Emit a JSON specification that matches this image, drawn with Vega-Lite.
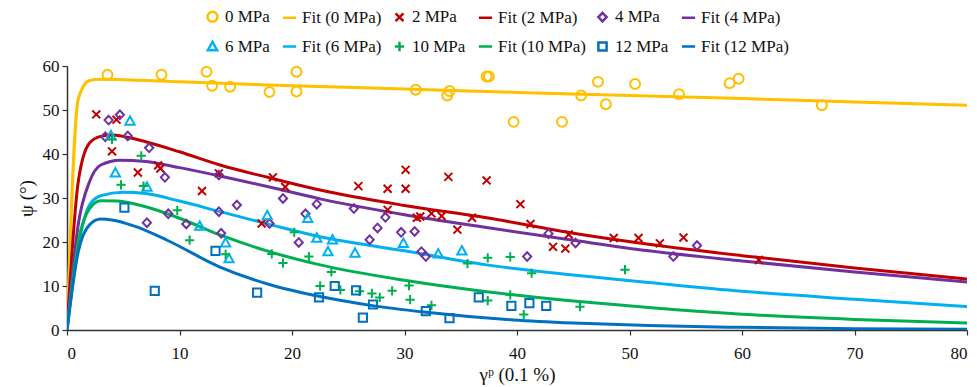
{
  "$schema": "https://vega.github.io/schema/vega-lite/v6.json",
  "autosize": {"type": "none"},
  "width": 900,
  "height": 264,
  "padding": {"left": 67, "top": 66, "right": 10, "bottom": 57},
  "background": "white",
  "config": {
    "view": {"stroke": null},
    "font": "'Liberation Serif', 'DejaVu Serif', serif",
    "axis": {
      "grid": false,
      "labelFont": "'Liberation Serif', 'DejaVu Serif', serif",
      "labelFontSize": 17,
      "labelColor": "#111",
      "titleFont": "'Liberation Serif', 'DejaVu Serif', serif",
      "titleFontSize": 19,
      "titleFontWeight": "normal",
      "titleColor": "#111",
      "domainColor": "#333",
      "domainWidth": 1.5,
      "tickColor": "#333",
      "tickWidth": 1.2,
      "tickSize": 5
    },
    "legend": {
      "labelFont": "'Liberation Serif', 'DejaVu Serif', serif",
      "labelFontSize": 17,
      "labelColor": "#111"
    }
  },
  "datasets": {
    "pts": [
      {"series": "0 MPa", "x": 3.6, "y": 58.0},
      {"series": "0 MPa", "x": 8.4, "y": 58.0},
      {"series": "0 MPa", "x": 12.4, "y": 58.7},
      {"series": "0 MPa", "x": 12.9, "y": 55.5},
      {"series": "0 MPa", "x": 14.5, "y": 55.3},
      {"series": "0 MPa", "x": 18.0, "y": 54.1},
      {"series": "0 MPa", "x": 20.4, "y": 58.7},
      {"series": "0 MPa", "x": 20.4, "y": 54.2},
      {"series": "0 MPa", "x": 31.0, "y": 54.6},
      {"series": "0 MPa", "x": 33.8, "y": 53.3},
      {"series": "0 MPa", "x": 34.0, "y": 54.3},
      {"series": "0 MPa", "x": 37.3, "y": 57.6},
      {"series": "0 MPa", "x": 37.5, "y": 57.6},
      {"series": "0 MPa", "x": 39.7, "y": 47.3},
      {"series": "0 MPa", "x": 44.0, "y": 47.3},
      {"series": "0 MPa", "x": 45.7, "y": 53.3},
      {"series": "0 MPa", "x": 47.2, "y": 56.4},
      {"series": "0 MPa", "x": 47.9, "y": 51.3},
      {"series": "0 MPa", "x": 50.5, "y": 55.9},
      {"series": "0 MPa", "x": 54.4, "y": 53.6},
      {"series": "0 MPa", "x": 58.9, "y": 56.1},
      {"series": "0 MPa", "x": 59.7, "y": 57.1},
      {"series": "0 MPa", "x": 67.1, "y": 51.1},
      {"series": "2 MPa", "x": 2.6, "y": 49.0},
      {"series": "2 MPa", "x": 4.4, "y": 47.8},
      {"series": "2 MPa", "x": 4.0, "y": 40.6},
      {"series": "2 MPa", "x": 6.3, "y": 35.8},
      {"series": "2 MPa", "x": 8.1, "y": 37.4},
      {"series": "2 MPa", "x": 8.3, "y": 36.7},
      {"series": "2 MPa", "x": 12.0, "y": 31.6},
      {"series": "2 MPa", "x": 13.5, "y": 35.6},
      {"series": "2 MPa", "x": 17.3, "y": 24.2},
      {"series": "2 MPa", "x": 18.3, "y": 34.7},
      {"series": "2 MPa", "x": 19.4, "y": 32.5},
      {"series": "2 MPa", "x": 25.9, "y": 32.7},
      {"series": "2 MPa", "x": 28.5, "y": 32.1},
      {"series": "2 MPa", "x": 30.1, "y": 36.4},
      {"series": "2 MPa", "x": 30.1, "y": 32.1},
      {"series": "2 MPa", "x": 33.9, "y": 34.8},
      {"series": "2 MPa", "x": 37.3, "y": 34.0},
      {"series": "2 MPa", "x": 28.5, "y": 27.3},
      {"series": "2 MPa", "x": 31.1, "y": 25.5},
      {"series": "2 MPa", "x": 31.4, "y": 25.8},
      {"series": "2 MPa", "x": 32.4, "y": 26.5},
      {"series": "2 MPa", "x": 33.3, "y": 25.9},
      {"series": "2 MPa", "x": 34.7, "y": 22.8},
      {"series": "2 MPa", "x": 36.0, "y": 25.5},
      {"series": "2 MPa", "x": 40.3, "y": 28.6},
      {"series": "2 MPa", "x": 41.2, "y": 24.1},
      {"series": "2 MPa", "x": 43.2, "y": 18.9},
      {"series": "2 MPa", "x": 44.3, "y": 18.5},
      {"series": "2 MPa", "x": 44.6, "y": 21.7},
      {"series": "2 MPa", "x": 48.6, "y": 20.9},
      {"series": "2 MPa", "x": 50.8, "y": 20.9},
      {"series": "2 MPa", "x": 52.7, "y": 19.7},
      {"series": "2 MPa", "x": 54.8, "y": 21.0},
      {"series": "2 MPa", "x": 61.5, "y": 15.9},
      {"series": "4 MPa", "x": 3.7, "y": 47.7},
      {"series": "4 MPa", "x": 4.7, "y": 48.9},
      {"series": "4 MPa", "x": 3.4, "y": 43.9},
      {"series": "4 MPa", "x": 5.4, "y": 44.1},
      {"series": "4 MPa", "x": 7.3, "y": 41.4},
      {"series": "4 MPa", "x": 8.7, "y": 34.7},
      {"series": "4 MPa", "x": 7.1, "y": 24.4},
      {"series": "4 MPa", "x": 9.0, "y": 26.4},
      {"series": "4 MPa", "x": 10.6, "y": 24.1},
      {"series": "4 MPa", "x": 13.5, "y": 35.2},
      {"series": "4 MPa", "x": 13.5, "y": 26.9},
      {"series": "4 MPa", "x": 13.7, "y": 22.0},
      {"series": "4 MPa", "x": 15.1, "y": 28.4},
      {"series": "4 MPa", "x": 18.0, "y": 24.2},
      {"series": "4 MPa", "x": 19.2, "y": 29.9},
      {"series": "4 MPa", "x": 20.6, "y": 19.9},
      {"series": "4 MPa", "x": 21.2, "y": 26.4},
      {"series": "4 MPa", "x": 22.2, "y": 28.6},
      {"series": "4 MPa", "x": 25.5, "y": 27.6},
      {"series": "4 MPa", "x": 26.9, "y": 20.5},
      {"series": "4 MPa", "x": 27.6, "y": 23.2},
      {"series": "4 MPa", "x": 28.3, "y": 25.6},
      {"series": "4 MPa", "x": 29.7, "y": 22.2},
      {"series": "4 MPa", "x": 30.9, "y": 22.4},
      {"series": "4 MPa", "x": 31.5, "y": 17.8},
      {"series": "4 MPa", "x": 31.9, "y": 16.7},
      {"series": "4 MPa", "x": 40.9, "y": 16.7},
      {"series": "4 MPa", "x": 42.8, "y": 21.9},
      {"series": "4 MPa", "x": 45.2, "y": 19.8},
      {"series": "4 MPa", "x": 53.9, "y": 16.7},
      {"series": "4 MPa", "x": 56.0, "y": 19.2},
      {"series": "6 MPa", "x": 3.9, "y": 44.2},
      {"series": "6 MPa", "x": 4.3, "y": 35.7},
      {"series": "6 MPa", "x": 5.6, "y": 47.5},
      {"series": "6 MPa", "x": 7.1, "y": 32.5},
      {"series": "6 MPa", "x": 11.8, "y": 23.6},
      {"series": "6 MPa", "x": 14.1, "y": 19.8},
      {"series": "6 MPa", "x": 14.4, "y": 16.2},
      {"series": "6 MPa", "x": 17.8, "y": 26.0},
      {"series": "6 MPa", "x": 21.4, "y": 25.4},
      {"series": "6 MPa", "x": 22.2, "y": 20.9},
      {"series": "6 MPa", "x": 23.2, "y": 17.8},
      {"series": "6 MPa", "x": 23.6, "y": 20.5},
      {"series": "6 MPa", "x": 25.6, "y": 17.5},
      {"series": "6 MPa", "x": 29.9, "y": 19.7},
      {"series": "6 MPa", "x": 33.0, "y": 17.3},
      {"series": "6 MPa", "x": 35.1, "y": 18.0},
      {"series": "10 MPa", "x": 4.0, "y": 43.3},
      {"series": "10 MPa", "x": 6.6, "y": 39.6},
      {"series": "10 MPa", "x": 4.8, "y": 33.0},
      {"series": "10 MPa", "x": 6.8, "y": 32.7},
      {"series": "10 MPa", "x": 9.8, "y": 27.2},
      {"series": "10 MPa", "x": 10.9, "y": 20.4},
      {"series": "10 MPa", "x": 14.1, "y": 17.2},
      {"series": "10 MPa", "x": 18.2, "y": 17.3},
      {"series": "10 MPa", "x": 19.2, "y": 15.2},
      {"series": "10 MPa", "x": 20.2, "y": 22.2},
      {"series": "10 MPa", "x": 21.5, "y": 16.7},
      {"series": "10 MPa", "x": 22.5, "y": 10.0},
      {"series": "10 MPa", "x": 23.5, "y": 13.2},
      {"series": "10 MPa", "x": 24.3, "y": 9.1},
      {"series": "10 MPa", "x": 26.0, "y": 8.8},
      {"series": "10 MPa", "x": 27.1, "y": 8.3},
      {"series": "10 MPa", "x": 27.8, "y": 7.4},
      {"series": "10 MPa", "x": 28.9, "y": 8.9},
      {"series": "10 MPa", "x": 30.4, "y": 10.1},
      {"series": "10 MPa", "x": 30.5, "y": 6.9},
      {"series": "10 MPa", "x": 32.4, "y": 5.6},
      {"series": "10 MPa", "x": 35.6, "y": 15.1},
      {"series": "10 MPa", "x": 37.4, "y": 16.4},
      {"series": "10 MPa", "x": 37.4, "y": 6.7},
      {"series": "10 MPa", "x": 39.4, "y": 16.6},
      {"series": "10 MPa", "x": 39.4, "y": 8.0},
      {"series": "10 MPa", "x": 40.6, "y": 3.5},
      {"series": "10 MPa", "x": 41.3, "y": 12.9},
      {"series": "10 MPa", "x": 45.6, "y": 5.3},
      {"series": "10 MPa", "x": 49.6, "y": 13.7},
      {"series": "12 MPa", "x": 5.1, "y": 27.8},
      {"series": "12 MPa", "x": 7.8, "y": 8.9},
      {"series": "12 MPa", "x": 13.2, "y": 18.0},
      {"series": "12 MPa", "x": 16.9, "y": 8.5},
      {"series": "12 MPa", "x": 22.4, "y": 7.4},
      {"series": "12 MPa", "x": 23.8, "y": 10.0},
      {"series": "12 MPa", "x": 25.7, "y": 9.0},
      {"series": "12 MPa", "x": 26.3, "y": 2.8},
      {"series": "12 MPa", "x": 27.2, "y": 5.8},
      {"series": "12 MPa", "x": 31.9, "y": 4.3},
      {"series": "12 MPa", "x": 34.0, "y": 2.7},
      {"series": "12 MPa", "x": 36.6, "y": 7.4},
      {"series": "12 MPa", "x": 39.5, "y": 5.5},
      {"series": "12 MPa", "x": 41.1, "y": 6.1},
      {"series": "12 MPa", "x": 42.6, "y": 5.5}
    ],
    "fit": [
      {"series": "Fit (0 MPa)", "x": 0, "y": 0},
      {"series": "Fit (0 MPa)", "x": 1, "y": 52.5},
      {"series": "Fit (0 MPa)", "x": 2, "y": 56.7},
      {"series": "Fit (0 MPa)", "x": 3, "y": 57.0},
      {"series": "Fit (0 MPa)", "x": 5, "y": 56.9},
      {"series": "Fit (0 MPa)", "x": 10, "y": 56.4},
      {"series": "Fit (0 MPa)", "x": 20, "y": 55.5},
      {"series": "Fit (0 MPa)", "x": 30, "y": 54.8},
      {"series": "Fit (0 MPa)", "x": 40, "y": 54.0},
      {"series": "Fit (0 MPa)", "x": 50, "y": 53.3},
      {"series": "Fit (0 MPa)", "x": 60, "y": 52.6},
      {"series": "Fit (0 MPa)", "x": 70, "y": 51.8},
      {"series": "Fit (0 MPa)", "x": 80, "y": 51.1},
      {"series": "Fit (2 MPa)", "x": 0, "y": 0},
      {"series": "Fit (2 MPa)", "x": 1, "y": 33.7},
      {"series": "Fit (2 MPa)", "x": 2, "y": 42.5},
      {"series": "Fit (2 MPa)", "x": 3, "y": 44.0},
      {"series": "Fit (2 MPa)", "x": 4, "y": 44.3},
      {"series": "Fit (2 MPa)", "x": 5, "y": 44.0},
      {"series": "Fit (2 MPa)", "x": 7, "y": 42.8},
      {"series": "Fit (2 MPa)", "x": 10, "y": 40.5},
      {"series": "Fit (2 MPa)", "x": 13.6, "y": 37.5},
      {"series": "Fit (2 MPa)", "x": 18, "y": 34.6},
      {"series": "Fit (2 MPa)", "x": 22.5, "y": 31.8},
      {"series": "Fit (2 MPa)", "x": 30, "y": 28.3},
      {"series": "Fit (2 MPa)", "x": 37.3, "y": 25.5},
      {"series": "Fit (2 MPa)", "x": 45, "y": 22.0},
      {"series": "Fit (2 MPa)", "x": 51.7, "y": 19.5},
      {"series": "Fit (2 MPa)", "x": 60, "y": 16.9},
      {"series": "Fit (2 MPa)", "x": 70, "y": 14.1},
      {"series": "Fit (2 MPa)", "x": 80, "y": 11.6},
      {"series": "Fit (4 MPa)", "x": 0, "y": 0},
      {"series": "Fit (4 MPa)", "x": 1, "y": 24.0},
      {"series": "Fit (4 MPa)", "x": 2, "y": 33.7},
      {"series": "Fit (4 MPa)", "x": 3, "y": 37.5},
      {"series": "Fit (4 MPa)", "x": 4.7, "y": 38.6},
      {"series": "Fit (4 MPa)", "x": 7, "y": 38.3},
      {"series": "Fit (4 MPa)", "x": 10, "y": 36.9},
      {"series": "Fit (4 MPa)", "x": 13.6, "y": 35.0},
      {"series": "Fit (4 MPa)", "x": 18, "y": 32.5},
      {"series": "Fit (4 MPa)", "x": 22.5, "y": 29.8},
      {"series": "Fit (4 MPa)", "x": 30, "y": 26.2},
      {"series": "Fit (4 MPa)", "x": 37, "y": 23.4},
      {"series": "Fit (4 MPa)", "x": 45, "y": 20.4},
      {"series": "Fit (4 MPa)", "x": 51.7, "y": 18.0},
      {"series": "Fit (4 MPa)", "x": 60, "y": 15.7},
      {"series": "Fit (4 MPa)", "x": 70, "y": 13.2},
      {"series": "Fit (4 MPa)", "x": 80, "y": 10.9},
      {"series": "Fit (6 MPa)", "x": 0, "y": 0},
      {"series": "Fit (6 MPa)", "x": 1, "y": 19.0},
      {"series": "Fit (6 MPa)", "x": 2, "y": 28.4},
      {"series": "Fit (6 MPa)", "x": 3, "y": 30.5},
      {"series": "Fit (6 MPa)", "x": 5, "y": 31.3},
      {"series": "Fit (6 MPa)", "x": 7, "y": 31.0},
      {"series": "Fit (6 MPa)", "x": 10, "y": 29.3},
      {"series": "Fit (6 MPa)", "x": 13.6, "y": 26.9},
      {"series": "Fit (6 MPa)", "x": 18, "y": 24.0},
      {"series": "Fit (6 MPa)", "x": 22.5, "y": 21.2},
      {"series": "Fit (6 MPa)", "x": 30, "y": 18.0},
      {"series": "Fit (6 MPa)", "x": 37.3, "y": 14.8},
      {"series": "Fit (6 MPa)", "x": 45, "y": 12.5},
      {"series": "Fit (6 MPa)", "x": 51.7, "y": 10.8},
      {"series": "Fit (6 MPa)", "x": 60, "y": 8.8},
      {"series": "Fit (6 MPa)", "x": 70, "y": 7.0},
      {"series": "Fit (6 MPa)", "x": 80, "y": 5.3},
      {"series": "Fit (10 MPa)", "x": 0, "y": 0},
      {"series": "Fit (10 MPa)", "x": 1, "y": 20.0},
      {"series": "Fit (10 MPa)", "x": 2, "y": 27.6},
      {"series": "Fit (10 MPa)", "x": 3, "y": 29.4},
      {"series": "Fit (10 MPa)", "x": 4.5, "y": 29.3},
      {"series": "Fit (10 MPa)", "x": 7, "y": 28.0},
      {"series": "Fit (10 MPa)", "x": 10, "y": 25.4},
      {"series": "Fit (10 MPa)", "x": 13.6, "y": 21.6},
      {"series": "Fit (10 MPa)", "x": 18, "y": 17.8},
      {"series": "Fit (10 MPa)", "x": 22.5, "y": 14.8},
      {"series": "Fit (10 MPa)", "x": 30, "y": 11.3},
      {"series": "Fit (10 MPa)", "x": 37.3, "y": 8.7},
      {"series": "Fit (10 MPa)", "x": 45, "y": 6.6},
      {"series": "Fit (10 MPa)", "x": 51.7, "y": 5.1},
      {"series": "Fit (10 MPa)", "x": 60, "y": 3.6},
      {"series": "Fit (10 MPa)", "x": 70, "y": 2.4},
      {"series": "Fit (10 MPa)", "x": 80, "y": 1.6},
      {"series": "Fit (12 MPa)", "x": 0, "y": 0},
      {"series": "Fit (12 MPa)", "x": 1, "y": 17.8},
      {"series": "Fit (12 MPa)", "x": 2, "y": 23.9},
      {"series": "Fit (12 MPa)", "x": 3, "y": 25.2},
      {"series": "Fit (12 MPa)", "x": 4, "y": 25.0},
      {"series": "Fit (12 MPa)", "x": 6, "y": 23.6},
      {"series": "Fit (12 MPa)", "x": 8.9, "y": 20.4},
      {"series": "Fit (12 MPa)", "x": 13.6, "y": 14.3},
      {"series": "Fit (12 MPa)", "x": 18.3, "y": 10.1},
      {"series": "Fit (12 MPa)", "x": 22.5, "y": 7.6},
      {"series": "Fit (12 MPa)", "x": 27, "y": 5.6},
      {"series": "Fit (12 MPa)", "x": 31.7, "y": 4.1},
      {"series": "Fit (12 MPa)", "x": 39.7, "y": 2.3},
      {"series": "Fit (12 MPa)", "x": 45, "y": 1.6},
      {"series": "Fit (12 MPa)", "x": 51.7, "y": 1.0},
      {"series": "Fit (12 MPa)", "x": 60, "y": 0.6},
      {"series": "Fit (12 MPa)", "x": 70, "y": 0.3},
      {"series": "Fit (12 MPa)", "x": 80, "y": 0.15}
    ]
  },
  "layer": [
    {
      "data": {"name": "fit"},
      "mark": {"type": "line", "strokeWidth": 3, "interpolate": "monotone", "clip": true},
      "encoding": {
        "x": {"field": "x", "type": "quantitative"},
        "y": {"field": "y", "type": "quantitative"},
        "color": {"field": "series", "type": "nominal"}
      }
    },
    {
      "data": {"name": "pts"},
      "mark": {"type": "point", "filled": false, "strokeWidth": 2, "size": 175, "opacity": 1},
      "encoding": {
        "x": {
          "field": "x", "type": "quantitative",
          "scale": {"domain": [0, 80], "nice": false},
          "axis": {"values": [0, 10, 20, 30, 40, 50, 60, 70, 80], "title": "γᵖ (0.1 %)", "labelPadding": 10, "titlePadding": 4}
        },
        "y": {
          "field": "y", "type": "quantitative",
          "scale": {"domain": [0, 60], "nice": false},
          "axis": {"values": [0, 10, 20, 30, 40, 50, 60], "title": "ψ (°)", "labelPadding": 3, "titlePadding": 6}
        },
        "color": {
          "field": "series", "type": "nominal",
          "scale": {
            "domain": ["0 MPa", "Fit (0 MPa)", "2 MPa", "Fit (2 MPa)", "4 MPa", "Fit (4 MPa)", "6 MPa", "Fit (6 MPa)", "10 MPa", "Fit (10 MPa)", "12 MPa", "Fit (12 MPa)"],
            "range": ["#FFC000", "#FFC000", "#C00000", "#C00000", "#7030A0", "#7030A0", "#00B0F0", "#00B0F0", "#00B050", "#00B050", "#0070C0", "#0070C0"]
          },
          "legend": {
            "orient": "none",
            "legendX": 137,
            "legendY": -58,
            "direction": "horizontal",
            "columns": 6,
            "title": null,
            "padding": 0,
            "columnPadding": 7,
            "rowPadding": 9,
            "symbolSize": 175,
            "symbolStrokeWidth": 2.5,
            "labelOffset": 4
          }
        },
        "shape": {
          "field": "series", "type": "nominal",
          "scale": {
            "domain": ["0 MPa", "Fit (0 MPa)", "2 MPa", "Fit (2 MPa)", "4 MPa", "Fit (4 MPa)", "6 MPa", "Fit (6 MPa)", "10 MPa", "Fit (10 MPa)", "12 MPa", "Fit (12 MPa)"],
            "range": [
              "M0.75,0A0.75,0.75,0,1,1,-0.75,0A0.75,0.75,0,1,1,0.75,0Z",
              "M-1,0L1,0",
              "M-0.6,-0.6L0.6,0.6M-0.6,0.6L0.6,-0.6",
              "M-1,0L1,0",
              "M0,-0.65L0.62,0L0,0.65L-0.62,0Z",
              "M-1,0L1,0",
              "M0,-0.72L0.7,0.55L-0.7,0.55Z",
              "M-1,0L1,0",
              "M-0.7,0L0.7,0M0,-0.7L0,0.7",
              "M-1,0L1,0",
              "M-0.62,-0.62L0.62,-0.62L0.62,0.62L-0.62,0.62Z",
              "M-1,0L1,0"
            ]
          },
          "legend": {
            "orient": "none",
            "legendX": 137,
            "legendY": -58,
            "direction": "horizontal",
            "columns": 6,
            "title": null,
            "padding": 0,
            "columnPadding": 7,
            "rowPadding": 9,
            "symbolSize": 175,
            "symbolStrokeWidth": 2.5,
            "labelOffset": 4
          }
        }
      }
    }
  ]
}
